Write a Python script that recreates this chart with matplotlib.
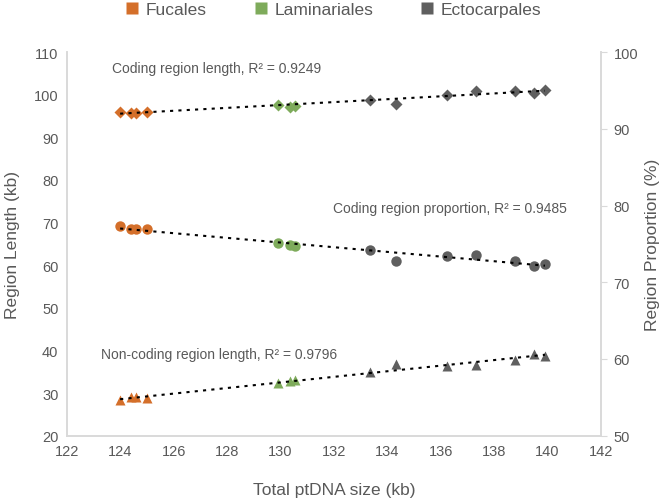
import matplotlib
matplotlib.use("Agg")
import matplotlib.pyplot as plt
from matplotlib.lines import Line2D
import numpy as np

plt.rcParams['font.family'] = ['Liberation Sans', 'DejaVu Sans']

# total ptDNA size (kb) per order
fuc_size = [124.0, 124.4, 124.6, 125.0]
lam_size = [129.9, 130.35, 130.55]
ect_size = [133.35, 134.33, 136.25, 137.33, 138.77, 139.5, 139.9]

# coding region length (kb)
fuc_cod = [96.0, 95.8, 95.8, 96.0]
lam_cod = [97.5, 97.2, 97.4]
ect_cod = [98.7, 97.85, 100.0, 100.8, 100.96, 100.4, 101.2]

# coding region proportion (%)
fuc_prop = [77.3, 76.9, 76.9, 76.9]
lam_prop = [75.15, 74.85, 74.7]
ect_prop = [74.15, 72.8, 73.4, 73.5, 72.8, 72.1, 72.4]

# non-coding region length (kb)
fuc_nc = [28.3, 29.0, 29.0, 28.8]
lam_nc = [32.3, 32.9, 33.0]
ect_nc = [34.85, 36.8, 36.4, 36.5, 37.8, 39.2, 38.7]

orders = ['Fucales', 'Laminariales', 'Ectocarpales']
colors = ['#D46F2A', '#7EAB5B', '#5F5F5F']
grey = '#595959'
spine_c = '#D9D9D9'

fig = plt.figure(figsize=(6.65, 5.02), dpi=100)
ax = fig.add_axes([0.1003, 0.130, 0.8035, 0.7644])
ax2 = ax.twinx()

sizes = [fuc_size, lam_size, ect_size]
cod = [fuc_cod, lam_cod, ect_cod]
prop = [fuc_prop, lam_prop, ect_prop]
nc = [fuc_nc, lam_nc, ect_nc]

for i in range(3):
    ax.plot(sizes[i], cod[i], 'D', color=colors[i], ms=6, mec='none', zorder=2)
    ax.plot(sizes[i], nc[i], '^', color=colors[i], ms=7.5, mec='none', zorder=2)
    ax2.plot(sizes[i], prop[i], 'o', color=colors[i], ms=7.5, mec='none', zorder=2)

all_x = np.array(fuc_size + lam_size + ect_size)
xs = np.array([all_x.min(), all_x.max()])
for a, ys in [(ax, fuc_cod + lam_cod + ect_cod),
              (ax, fuc_nc + lam_nc + ect_nc),
              (ax2, fuc_prop + lam_prop + ect_prop)]:
    k, b = np.polyfit(all_x, ys, 1)
    a.plot(xs, k * xs + b, color='black', lw=1.5, ls=(0, (1.5, 2.5)), zorder=3)

ax.set_xlim(122, 142)
ax.set_xticks(np.arange(122, 143, 2))
ax.set_ylim(20, 110)
ax.set_yticks(np.arange(20, 111, 10))
ax2.set_ylim(50, 100)
ax2.set_yticks(np.arange(50, 101, 10))

for a in [ax, ax2]:
    a.spines['top'].set_visible(False)
    for s in ['left', 'right', 'bottom']:
        a.spines[s].set_color(spine_c)
        a.spines[s].set_linewidth(1.2)
    a.tick_params(colors=grey, labelsize=10.5)
ax.tick_params(axis='both', length=0, pad=6)
ax2.tick_params(axis='y', length=4, color=spine_c, pad=5)

ax.set_xlabel('Total ptDNA size (kb)', fontsize=12.5, color=grey, labelpad=17)
ax.set_ylabel('Region Length (kb)', fontsize=12.5, color=grey, labelpad=10)
ax2.set_ylabel('Region Proportion (%)', fontsize=12.5, color=grey, labelpad=5)

ax.text(123.7, 106.3, 'Coding region length, R² = 0.9249', fontsize=10,
        color=grey, va='center')
ax.text(131.96, 73.3, 'Coding region proportion, R² = 0.9485', fontsize=10,
        color=grey, va='center')
ax.text(123.3, 39.1, 'Non-coding region length, R² = 0.9796', fontsize=10,
        color=grey, va='center')

handles = [Line2D([], [], ls='none', marker='s', ms=8, color=c, mec='none')
           for c in colors]
fig.legend(handles, orders, loc='center', bbox_to_anchor=(0.5, 0.98), ncol=3,
           frameon=False, fontsize=12.5, handletextpad=0.3, columnspacing=2.6,
           labelcolor=grey, handlelength=1.0)

plt.savefig('out.png', dpi=100)
